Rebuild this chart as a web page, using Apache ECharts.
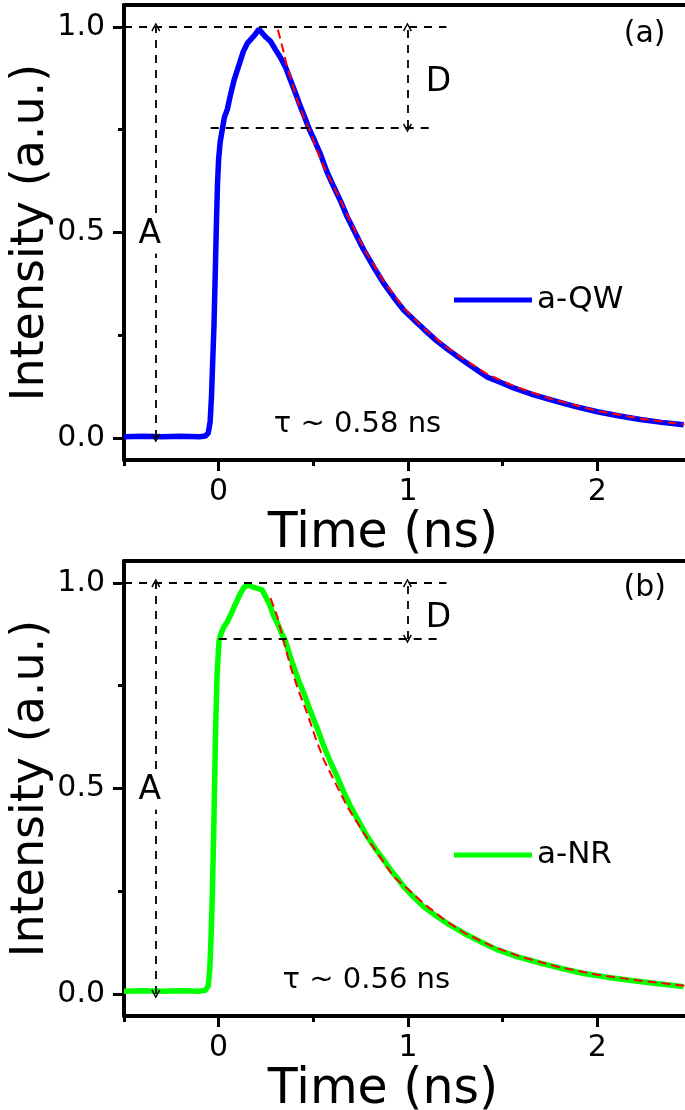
<!DOCTYPE html>
<html>
<head>
<meta charset="utf-8">
<script src="https://cdn.jsdelivr.net/npm/echarts@6/dist/echarts.min.js"></script>
<style>
html, body { margin: 0; padding: 0; background: #fff; }
#chart { width: 685px; height: 1110px; }
</style>
</head>
<body>
<div id="chart"></div>
<script>
// Tick positions
var xTicks = [0, 1, 2];
var xMinorTicks = [-0.5, 0.5, 1.5];
var yTicks = [0, 0.5, 1];
var yMinorTicks = [0.25, 0.75];

// (a) a-QW transient
var qwTime = [-0.5, -0.4, -0.3, -0.2, -0.1, -0.07, -0.055, -0.045, -0.038, -0.032, -0.025, -0.018, -0.012, -0.006, 0.0, 0.008, 0.019, 0.03, 0.046, 0.06, 0.081, 0.095, 0.116, 0.13, 0.151, 0.17, 0.19, 0.213, 0.23, 0.25, 0.274, 0.3, 0.327, 0.355, 0.38, 0.405, 0.433, 0.455, 0.477, 0.505, 0.538, 0.57, 0.609, 0.645, 0.679, 0.72, 0.767, 0.82, 0.872, 0.925, 0.978, 1.03, 1.083, 1.15, 1.22, 1.293, 1.36, 1.42, 1.49, 1.558, 1.65, 1.77, 1.88, 2.0, 2.11, 2.227, 2.34, 2.456];
var qwInt = [0.003, 0.004, 0.003, 0.004, 0.003, 0.005, 0.012, 0.04, 0.10, 0.18, 0.27, 0.40, 0.52, 0.62, 0.68, 0.72, 0.75, 0.78, 0.80, 0.83, 0.87, 0.89, 0.92, 0.94, 0.96, 0.97, 0.98, 0.995, 0.985, 0.975, 0.965, 0.945, 0.925, 0.90, 0.87, 0.84, 0.805, 0.78, 0.753, 0.725, 0.69, 0.65, 0.61, 0.575, 0.538, 0.50, 0.457, 0.415, 0.376, 0.342, 0.311, 0.288, 0.265, 0.237, 0.212, 0.188, 0.167, 0.148, 0.135, 0.122, 0.107, 0.091, 0.077, 0.064, 0.054, 0.045, 0.038, 0.032];
var qwFitTime = [0.313, 0.34, 0.362, 0.39, 0.415, 0.45, 0.486, 0.52, 0.556, 0.61, 0.68, 0.77, 0.87, 0.98, 1.08, 1.2, 1.3, 1.42, 1.56, 1.77, 2.0, 2.23, 2.46];
var qwFitInt = [0.993, 0.945, 0.903, 0.86, 0.822, 0.78, 0.742, 0.70, 0.66, 0.61, 0.542, 0.458, 0.382, 0.315, 0.268, 0.222, 0.19, 0.155, 0.126, 0.093, 0.066, 0.047, 0.033];

// (b) a-NR transient
var nrTime = [-0.5, -0.4, -0.3, -0.2, -0.1, -0.07, -0.055, -0.047, -0.04, -0.033, -0.025, -0.016, -0.008, 0.002, 0.015, 0.028, 0.045, 0.063, 0.08, 0.099, 0.115, 0.134, 0.16, 0.18, 0.204, 0.23, 0.25, 0.274, 0.29, 0.31, 0.33, 0.354, 0.375, 0.397, 0.42, 0.45, 0.475, 0.503, 0.53, 0.556, 0.59, 0.626, 0.66, 0.697, 0.74, 0.785, 0.83, 0.872, 0.908, 0.95, 0.978, 1.03, 1.083, 1.15, 1.22, 1.295, 1.38, 1.47, 1.576, 1.7, 1.82, 1.928, 2.05, 2.18, 2.3, 2.455];
var nrInt = [0.007, 0.008, 0.007, 0.008, 0.007, 0.009, 0.02, 0.06, 0.14, 0.25, 0.42, 0.65, 0.78, 0.86, 0.88, 0.894, 0.905, 0.922, 0.94, 0.959, 0.975, 0.99, 0.995, 0.99, 0.987, 0.983, 0.965, 0.942, 0.92, 0.902, 0.88, 0.857, 0.825, 0.796, 0.765, 0.732, 0.70, 0.667, 0.635, 0.602, 0.565, 0.529, 0.492, 0.456, 0.42, 0.383, 0.352, 0.326, 0.302, 0.278, 0.261, 0.236, 0.212, 0.19, 0.168, 0.148, 0.128, 0.108, 0.091, 0.075, 0.061, 0.05, 0.041, 0.033, 0.026, 0.018];
var nrFitTime = [0.274, 0.31, 0.345, 0.38, 0.42, 0.468, 0.51, 0.556, 0.62, 0.679, 0.767, 0.85, 0.925, 1.0, 1.083, 1.2, 1.3, 1.45, 1.6, 1.8, 2.0, 2.2, 2.46];
var nrFitInt = [0.963, 0.918, 0.855, 0.796, 0.74, 0.683, 0.625, 0.569, 0.51, 0.456, 0.391, 0.335, 0.285, 0.255, 0.22, 0.178, 0.148, 0.115, 0.09, 0.065, 0.047, 0.034, 0.02];

var font = 'DejaVu Sans';
var chevron = 'path://M5,0 L10,9 L8.6,10 L5,3.2 L1.4,10 L0,9 Z';

function zip(t, v) {
    return t.map(function (x, i) { return [x, v[i]]; });
}

var grids = [], xAxes = [], yAxes = [], series = [], legends = [];

function addPanel(p) {
    var g = grids.length;
    grids.push({ left: 124, top: p.top, width: 568, height: 455, outerBoundsMode: 'none' });
    grids.push({ left: 124, top: p.top, width: 568, height: 455, outerBoundsMode: 'none' });
    var xi = xAxes.length, yi = yAxes.length;
    var yMin = -0.0535, yMax = 1.0535;
    // bottom axis with major ticks
    xAxes.push({
        gridIndex: g, type: 'value', min: -0.5, max: 2.5, position: 'bottom',
        axisLine: { show: true, onZero: false, lineStyle: { color: '#000', width: 4 } },
        axisTick: { show: true, customValues: xTicks, length: 11, lineStyle: { color: '#000', width: 3 } },
        axisLabel: { customValues: xTicks, fontSize: 30, color: '#000', fontFamily: font, margin: 17 },
        splitLine: { show: false },
        name: 'Time (ns)', nameLocation: 'middle', nameGap: 50,
        nameTextStyle: { fontSize: 49, color: '#000', fontFamily: font, padding: [0, 50, 0, 0] }
    });
    // top frame
    xAxes.push({
        gridIndex: g, type: 'value', min: -0.5, max: 2.5, position: 'top',
        axisLine: { show: true, onZero: false, lineStyle: { color: '#000', width: 4 } },
        axisTick: { show: false }, axisLabel: { show: false }, splitLine: { show: false }
    });
    // minor ticks
    xAxes.push({
        gridIndex: g + 1, type: 'value', min: -0.5, max: 2.5, position: 'bottom',
        axisLine: { show: false, onZero: false },
        axisTick: { show: true, customValues: xMinorTicks, length: 6, lineStyle: { color: '#000', width: 3 } },
        axisLabel: { show: false }, splitLine: { show: false }
    });
    yAxes.push({
        gridIndex: g, type: 'value', min: yMin, max: yMax,
        axisLine: { show: true, onZero: false, lineStyle: { color: '#000', width: 4 } },
        axisTick: { show: true, customValues: yTicks, length: 11, lineStyle: { color: '#000', width: 3 } },
        axisLabel: {
            customValues: yTicks, fontSize: 30, color: '#000', fontFamily: font, margin: 19,
            formatter: function (v) { return v.toFixed(1); }
        },
        splitLine: { show: false },
        name: 'Intensity (a.u.)', nameLocation: 'middle', nameGap: 70, nameMoveOverlap: false,
        nameTextStyle: { fontSize: 46, color: '#000', fontFamily: font }
    });
    yAxes.push({
        gridIndex: g + 1, type: 'value', min: yMin, max: yMax,
        axisLine: { show: false, onZero: false },
        axisTick: { show: true, customValues: yMinorTicks, length: 6, lineStyle: { color: '#000', width: 3 } },
        axisLabel: { show: false }, splitLine: { show: false }
    });

    series.push({
        name: p.name, type: 'line', xAxisIndex: xi, yAxisIndex: yi,
        data: zip(p.t, p.v), showSymbol: false, color: p.color,
        lineStyle: { color: p.color, width: 5.5 }, z: 2
    });
    series.push({
        name: p.name + ' fit', type: 'line', xAxisIndex: xi, yAxisIndex: yi,
        data: zip(p.fitT, p.fitV), showSymbol: false, color: '#ff0000',
        lineStyle: { color: '#ff0000', width: 2, type: [9, 5] }, z: 3,
        markLine: {
            silent: true, animation: false, symbol: 'none', label: { show: false },
            lineStyle: { color: '#000', width: 1.8, type: [8, 7] },
            data: [
                [{ coord: [-0.5, 1] }, { coord: [1.203, 1] }],
                [{ coord: [p.dStart, p.dLevel] }, { coord: [p.dEnd, p.dLevel] }],
                [{ coord: [-0.332, 0], symbol: chevron, symbolSize: [9, 9] },
                 { coord: [-0.332, 1], symbol: chevron, symbolSize: [9, 9] }],
                [{ coord: [0.997, p.dLevel], symbol: chevron, symbolSize: [9, 9] },
                 { coord: [0.997, 1], symbol: chevron, symbolSize: [9, 9] }]
            ]
        }
    });
    // text notes placed in data coordinates
    series.push({
        name: 'notes', type: 'scatter', xAxisIndex: xi, yAxisIndex: yi,
        symbolSize: 0, itemStyle: { color: '#000', opacity: 1 }, silent: true, z: 5,
        label: {
            show: true, position: 'inside', formatter: '{b}', color: '#000',
            fontFamily: font, fontSize: 30, textBorderWidth: 0, opacity: 1
        },
        data: [
            { name: 'A', value: [-0.364, 0.496], label: { fontSize: 33, color: '#000', backgroundColor: '#fff', padding: [3, 0] } },
            { name: 'D', value: [1.161, p.dText], label: { fontSize: 33, color: '#000' } },
            { name: p.tag, value: [2.25, p.tagY], label: { fontSize: 30, color: '#000' } },
            { name: p.tau, value: [p.tauX, 0.033], label: { fontSize: 29, color: '#000' } }
        ]
    });
    legends.push({
        data: [p.name], left: 449, top: p.legendTop, icon: 'rect',
        itemWidth: 78, itemHeight: 5,
        textStyle: { fontSize: 31, fontFamily: font, color: '#000', lineHeight: 34 }
    });
}

addPanel({
    top: 5, name: 'a-QW', color: '#0000ff', t: qwTime, v: qwInt, fitT: qwFitTime, fitV: qwFitInt,
    dLevel: 0.754, dStart: -0.042, dEnd: 1.135, dText: 0.866,
    tag: '(a)', tagY: 0.983, tau: 'τ ~ 0.58 ns', tauX: 0.733, legendTop: 278
});
addPanel({
    top: 561, name: 'a-NR', color: '#00ff00', t: nrTime, v: nrInt, fitT: nrFitTime, fitV: nrFitInt,
    dLevel: 0.864, dStart: 0.0, dEnd: 1.177, dText: 0.915,
    tag: '(b)', tagY: 0.988, tau: 'τ ~ 0.56 ns', tauX: 0.78, legendTop: 833
});

var chart = echarts.init(document.getElementById('chart'));
chart.setOption({
    animation: false,
    backgroundColor: '#fff',
    grid: grids,
    xAxis: xAxes,
    yAxis: yAxes,
    legend: legends,
    series: series
});
</script>
</body>
</html>
